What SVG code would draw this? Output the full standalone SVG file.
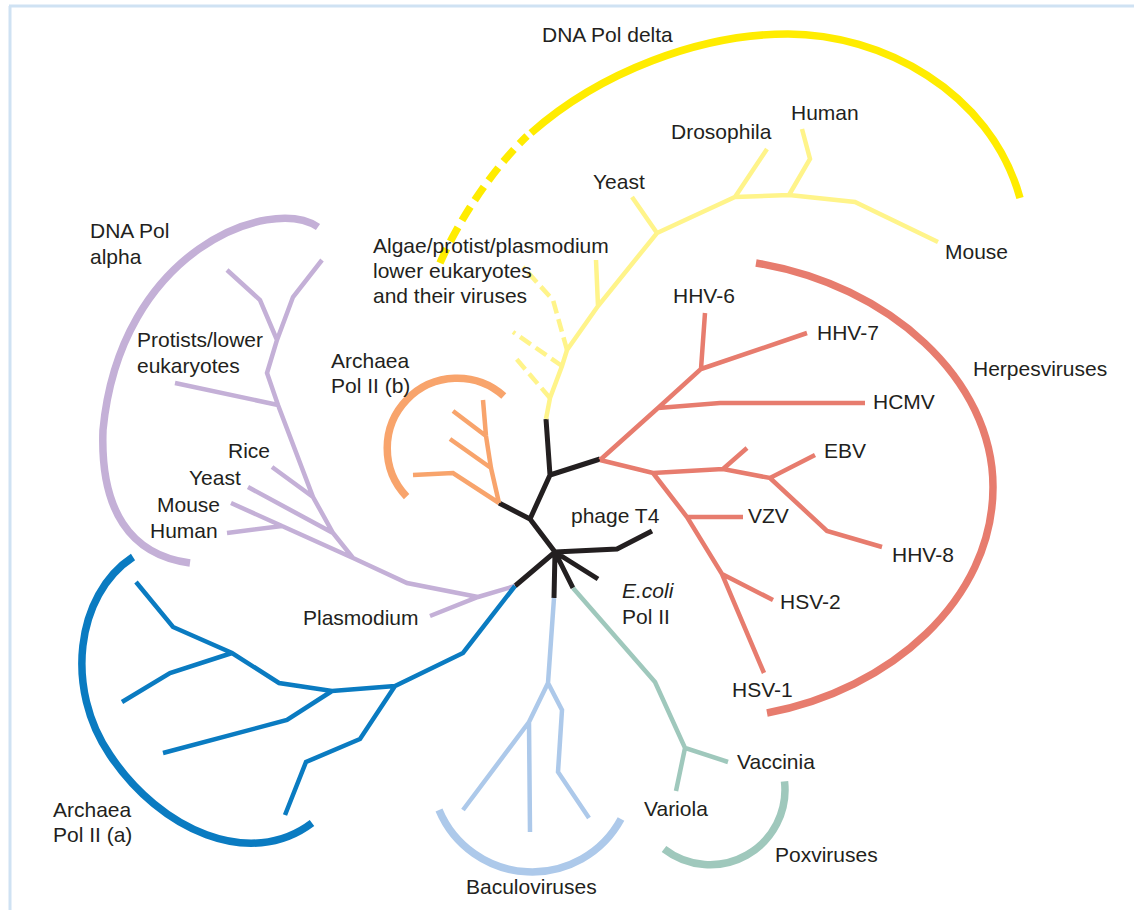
<svg xmlns="http://www.w3.org/2000/svg" width="1134" height="910" viewBox="0 0 1134 910">
<style>
  text { font-family: "Liberation Sans", Arial, sans-serif; font-size: 21px; fill: #231f20; }
  .br { fill: none; stroke-width: 4.5; stroke-linejoin: miter; stroke-linecap: butt; }
  .arc { fill: none; stroke-width: 7.5; stroke-linecap: butt; }
  .blk { fill: none; stroke: #231f20; stroke-width: 5; stroke-linejoin: miter; }
  .yl { stroke: #fff48a; }
  .rd { stroke: #e77c6e; }
  .or { stroke: #f8a46c; }
  .pu { stroke: #c4b0d7; }
  .bl { stroke: #0a7bc1; }
  .lb { stroke: #adc9ea; }
  .gr { stroke: #9fc8bc; }
  .dash { stroke-dasharray: 13 6; }
</style>
<rect width="1134" height="910" fill="#ffffff"/>
<g id="frame" fill="none" stroke="#cfe2f3" stroke-width="3">
  <path d="M9,6 H1134 M10,6 V910"/>
</g>

<g id="connectors">
  <path class="blk" d="M555,552 L530,519 L499,503 M530,519 L550,475 L546,419 M550,475 L600,459 M555,552 L617,549 L652,531 M555,552 L598,579 M555,552 L573,588 M555,552 L554,598 M555,552 L515,586"/>
</g>

<g id="pol-delta">
  <path class="br yl" d="M546,419 L550,398 L562,366 L567,350 L598,306 L657,233 L735,197 L789,195 L855,202 L938,242 M598,306 L596,260 M657,233 L632,197 M735,197 L767,149 M789,195 L810,159 L802,129"/>
  <path class="br yl dash" d="M567,350 L553,300 L523,267 M562,366 L513,332 M550,398 L513,355"/>
  <path class="arc" stroke="#ffec00" stroke-dasharray="16 8" d="M440,263 C458,222 490,172 527,136"/>
  <path class="arc" stroke="#ffec00" d="M531,133 C600,72 700,34 788,34 C880,34 990,90 1020,198"/>
  <text x="542" y="42">DNA Pol delta</text>
  <text x="671" y="139">Drosophila</text>
  <text x="791" y="120">Human</text>
  <text x="593" y="189">Yeast</text>
  <text x="945" y="259">Mouse</text>
  <text x="373" y="253">Algae/protist/plasmodium</text>
  <text x="373" y="278">lower eukaryotes</text>
  <text x="373" y="303">and their viruses</text>
</g>

<g id="herpesviruses">
  <path class="br rd" d="M600,460 L658,408 L701,369 L705,313 M701,369 L807,333 M658,408 L720,403 L865,403 M600,460 L653,473 L723,469 L770,478 L815,455 M723,469 L747,448 M770,478 L827,531 L882,547 M653,473 L687,517 L722,574 L764,673 M687,517 L743,517 M722,574 L773,600"/>
  <path class="arc rd" d="M756,263 C890,285 993,380 993,487 C993,600 890,690 767,713"/>
  <text x="673" y="303">HHV-6</text>
  <text x="817" y="340">HHV-7</text>
  <text x="873" y="409">HCMV</text>
  <text x="824" y="458">EBV</text>
  <text x="748" y="523">VZV</text>
  <text x="892" y="562">HHV-8</text>
  <text x="780" y="609">HSV-2</text>
  <text x="732" y="697">HSV-1</text>
  <text x="973" y="376">Herpesviruses</text>
</g>

<g id="archaea-b">
  <path class="br or" d="M499,503 L491,468 L486,436 L483,400 M491,468 L450,439 M486,436 L453,411 M499,503 L453,473 L413,475"/>
  <path class="arc or" d="M503.8,396 A70,70 0 0,0 406.6,496.6"/>
  <text x="331" y="368">Archaea</text>
  <text x="331" y="393">Pol II (b)</text>
</g>

<g id="pol-alpha">
  <path class="br pu" d="M515,586 L478,597 L430,616 M478,597 L407,583 L353,558 L333,533 L313,497 L278,405 L267,373 L277,340 L260,300 L227,270 M277,340 L293,297 L322,260 M278,405 L175,383 M313,497 L272,467 M333,533 L248,487 M353,558 L282,526 L227,533 M282,526 L231,503"/>
  <path class="arc pu" d="M318,227 C270,195 120,250 103,430 C100,510 130,555 190,563"/>
  <text x="90" y="238">DNA Pol</text>
  <text x="90" y="264">alpha</text>
  <text x="137" y="347">Protists/lower</text>
  <text x="137" y="373">eukaryotes</text>
  <text x="228" y="458">Rice</text>
  <text x="189" y="485">Yeast</text>
  <text x="157" y="512">Mouse</text>
  <text x="150" y="538">Human</text>
  <text x="303" y="625">Plasmodium</text>
</g>

<g id="archaea-a">
  <path class="br bl" d="M515,586 L463,653 L395,686 L332,691 L279,683 L232,653 L173,627 L136,582 M232,653 L170,673 L122,702 M332,691 L287,720 L163,753 M395,686 L360,739 L306,762 L285,815"/>
  <path class="arc bl" d="M133,557 C75,595 65,690 110,755 C160,830 250,870 312,823"/>
  <text x="53" y="817">Archaea</text>
  <text x="53" y="842">Pol II (a)</text>
</g>

<g id="baculoviruses">
  <path class="br lb" d="M554,598 L548,683 L562,710 L558,772 L589,818 M548,683 L529,722 L530,832 M529,722 L463,810"/>
  <path class="arc lb" d="M439,810 A101,101 0 0,0 621,819"/>
  <text x="466" y="894">Baculoviruses</text>
</g>

<g id="poxviruses">
  <path class="br gr" d="M573,588 L655,682 L685,748 L728,762 M685,748 L676,791"/>
  <path class="arc gr" d="M784.5,781.3 A75,75 0 0,1 664,849"/>
  <text x="737" y="769">Vaccinia</text>
  <text x="644" y="816">Variola</text>
  <text x="775" y="862">Poxviruses</text>
</g>

<g id="phage-t4">
  <text x="571" y="523">phage T4</text>
</g>

<g id="ecoli">
  <text x="622" y="598" font-style="italic">E.coli</text>
  <text x="622" y="624">Pol II</text>
</g>
</svg>
